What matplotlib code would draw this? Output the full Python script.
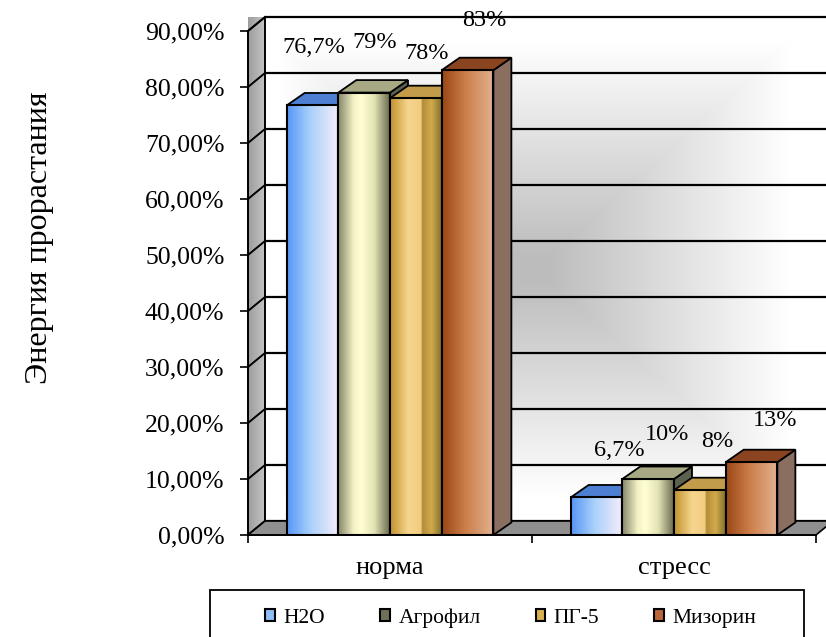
import numpy as np
import matplotlib
matplotlib.use("Agg")
import matplotlib.pyplot as plt
from matplotlib.patches import Polygon, Rectangle, Patch
from matplotlib.colors import to_rgb

plt.rcParams['font.family'] = ['Liberation Serif', 'DejaVu Serif']

# ---------------- data ----------------
categories = ["норма", "стресс"]
series = ["H2O", "Агрофил", "ПГ-5", "Мизорин"]
h2o = [76.7, 6.7]
agrofil = [79.0, 10.0]
pg5 = [78.0, 8.0]
mizorin = [83.0, 13.0]
labels_h2o = ["76,7%", "6,7%"]
labels_agrofil = ["79%", "10%"]
labels_pg5 = ["78%", "8%"]
labels_mizorin = ["83%", "13%"]
y_ticks = [0, 10, 20, 30, 40, 50, 60, 70, 80, 90]
y_label = "Энергия прорастания"

values = [h2o, agrofil, pg5, mizorin]
value_labels = [labels_h2o, labels_agrofil, labels_pg5, labels_mizorin]

# ---------------- style ----------------
front_stops = [
    [(0.0, "#5597f6"), (0.45, "#a9d0fb"), (1.0, "#f6eefa")],
    [(0.0, "#85856a"), (0.3, "#f2f2c4"), (0.45, "#ffffd2"), (0.7, "#e2e2b4"), (1.0, "#6a6a50")],
    [(0.0, "#c0902c"), (0.35, "#f6d68e"), (0.6, "#f2cc80"), (0.62, "#b48c36"), (0.8, "#d2aa4c"), (1.0, "#80702c")],
    [(0.0, "#9a4616"), (0.45, "#cc7e48"), (1.0, "#e2b292")],
]
top_colors = ["#4d80d2", "#a8a884", "#c29c4a", "#8a4420"]
side_colors = ["#3f68b0", "#5c604e", "#8a7432", "#8a6e60"]
legend_colors = ["#8fbff5", "#707058", "#d8b050", "#b8663a"]
# label nudges (pixels) for text placement, per series [норма, стресс]
label_nudge_x = [[-14, 8], [-4, 4], [-4, 2], [2, 9]]
label_nudge_y = [[10, -1], [2, -4], [-3, 1], [2, -6]]

W, H = 826, 637
fig = plt.figure(figsize=(W / 100, H / 100), dpi=100)
ax = fig.add_axes([248 / W, 102 / H, 568 / W, 504 / H])
ax.set_xlim(0, 2)
ax.set_ylim(0, 90)
ax.patch.set_visible(False)

px_x = 2 / 568.0   # data units per pixel (x)
px_y = 90 / 504.0  # data units per pixel (y)
DXW, DYW = 17 * px_x, 14 * px_y   # wall depth
DXB, DYB = 18 * px_x, 12.5 * px_y  # bar depth


def gradient_img(stops, n=256):
    xs = np.linspace(0, 1, n)
    pos = [s[0] for s in stops]
    cols = np.array([to_rgb(s[1]) for s in stops])
    img = np.zeros((1, n, 3))
    for k in range(3):
        img[0, :, k] = np.interp(xs, pos, cols[:, k])
    return img


# back wall with "from center" gradient
nx, ny = 300, 300
gx = np.linspace(-1, 1, nx)
gy = np.linspace(-1, 1, ny)
GX, GY = np.meshgrid(gx, gy)
t = np.maximum(np.abs(GX + 0.05), np.abs(GY))
t = np.clip((t - 0.05) / 0.85, 0, 1)
gray = 0.74 + 0.26 * t
wall = np.dstack([gray, gray, gray])
im = ax.imshow(wall, extent=[DXW, 2 + DXW, DYW, 90 + DYW], aspect='auto',
               zorder=0, clip_on=False, interpolation='bilinear')

# left wall
lw_poly = Polygon([(0, 0), (0, 90), (DXW, 90 + DYW), (DXW, DYW)], closed=True,
                  facecolor='none', edgecolor='black', lw=1.2, zorder=1.5, clip_on=False)
ax.add_patch(lw_poly)
im2 = ax.imshow(gradient_img([(0, "#9c9c9c"), (1, "#c4c4c4")]), extent=[0, DXW, 0, 90 + DYW],
                aspect='auto', zorder=1.2, clip_on=False)
im2.set_clip_path(lw_poly)

# grid lines
for v in y_ticks:
    ax.plot([DXW, 2 + DXW], [v + DYW, v + DYW], color='black', lw=1.6, zorder=1, clip_on=False,
            solid_capstyle='butt')
    ax.plot([0, DXW], [v, v + DYW], color='black', lw=1.4, zorder=1.6, clip_on=False)
ax.plot([DXW, DXW], [DYW, 90 + DYW], color='black', lw=1.2, zorder=1.6, clip_on=False)

# floor
floor = Polygon([(0, 0), (2, 0), (2 + DXW, DYW), (DXW, DYW)], closed=True,
                facecolor="#8f8f8f", edgecolor='black', lw=1.2, zorder=2, clip_on=False)
ax.add_patch(floor)

# bars
bw = 0.182
nser = len(series)
z = 3.0
for c in range(len(categories)):
    for j in range(nser):
        v = values[j][c]
        left = c + 0.5 - nser / 2 * bw + j * bw
        side = Polygon([(left + bw, 0), (left + bw + DXB, DYB), (left + bw + DXB, v + DYB), (left + bw, v)],
                       closed=True, facecolor=side_colors[j], edgecolor='black', lw=1.3,
                       zorder=z, clip_on=False, joinstyle='miter')
        ax.add_patch(side)
        top = Polygon([(left, v), (left + bw, v), (left + bw + DXB, v + DYB), (left + DXB, v + DYB)],
                      closed=True, facecolor=top_colors[j], edgecolor='black', lw=1.3,
                      zorder=z + 0.01, clip_on=False, joinstyle='miter')
        ax.add_patch(top)
        rect = ax.bar(left, v, width=bw, align='edge', facecolor='none', edgecolor='black',
                      lw=1.5, zorder=z + 0.03)[0]
        gim = ax.imshow(gradient_img(front_stops[j]), extent=[left, left + bw, 0, v], aspect='auto',
                        zorder=z + 0.02, interpolation='bilinear')
        gim.set_clip_path(rect)
        z += 0.1
        cx = left + bw / 2 + DXB / 2
        ax.annotate(value_labels[j][c], xy=(cx, v),
                    xytext=((6 + label_nudge_x[j][c]) * 0.72, (48 + label_nudge_y[j][c]) * 0.72),
                    textcoords='offset points', ha='center', va='center', fontsize=17.5,
                    zorder=20, annotation_clip=False)

ax.set_xlim(0, 2)
ax.set_ylim(0, 90)

# axes styling
for s in ['top', 'right']:
    ax.spines[s].set_visible(False)
ax.spines['left'].set_linewidth(1.3)
ax.spines['bottom'].set_linewidth(1.3)
ax.spines['left'].set_zorder(2.5)
ax.spines['bottom'].set_zorder(2.5)
ax.set_yticks(y_ticks)
ax.set_yticklabels([f"{v:.2f}".replace('.', ',') + "%" for v in y_ticks], fontsize=18.5)
ax.tick_params(axis='y', direction='out', length=6, width=1.2, pad=11)
ax.set_xticks([0.5, 1.5])
ax.set_xticklabels(categories, fontsize=19)
ax.tick_params(axis='x', which='major', length=0, pad=16)
ax.set_xticks([0, 1, 2], minor=True)
ax.tick_params(axis='x', which='minor', direction='out', length=6, width=1.2)

fig.text(40 / W, 1 - 238 / H, y_label, rotation=90, ha='center', va='center', fontsize=23)

# legend
handles = [Patch(facecolor=legend_colors[k], edgecolor='black', lw=1.5, label=series[k]) for k in range(nser)]
leg = fig.legend(handles=handles, loc='center', bbox_to_anchor=(511 / W, 1 - 618 / H), ncol=4,
                 frameon=False, fontsize=15.5, handlelength=0.45, handleheight=0.45,
                 handletextpad=0.4, columnspacing=2.55)
fig.patches.append(Rectangle((210 / W, -0.05), (804 - 210) / W, 0.05 + (637 - 590) / H,
                             transform=fig.transFigure, facecolor='none', edgecolor='black', lw=1.3))

fig.savefig("out.png", dpi=100)
